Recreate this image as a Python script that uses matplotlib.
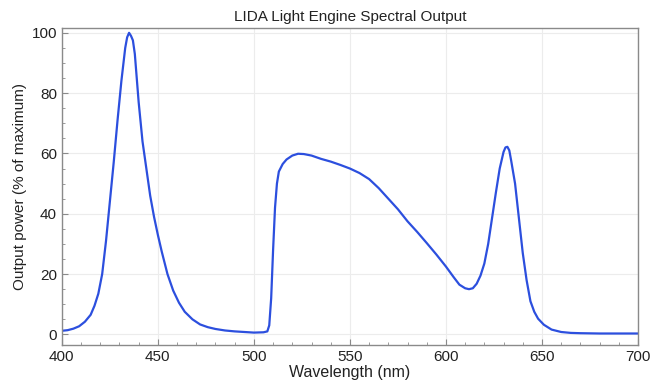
import matplotlib
matplotlib.use('Agg')
import matplotlib.pyplot as plt
from matplotlib.ticker import MultipleLocator

# wavelength (nm) and relative output (% of maximum)
wavelength = [400, 403, 406, 409, 412, 415, 417, 419, 421, 423, 425, 427, 429, 431,
              433, 434, 435, 436, 437, 438, 440, 442, 444, 446, 448, 450, 452, 455,
              458, 461, 464, 468, 472, 476, 480, 485, 490, 495, 500, 505, 507, 508,
              509, 510, 511, 512, 513, 515, 517, 520, 523, 526, 530, 535, 540, 545,
              550, 555, 560, 565, 570, 575, 580, 585, 590, 595, 600, 604, 607, 610,
              612, 614, 616, 618, 620, 622, 624, 626, 628, 630, 631, 632, 633, 634,
              636, 638, 640, 642, 644, 646, 648, 651, 655, 660, 665, 670, 680, 690, 700]
power = [1.2, 1.4, 1.9, 2.7, 4.2, 6.5, 9.5, 13.5, 20, 31, 44, 57, 71, 84,
         95, 98.5, 100, 99, 97.5, 93, 77, 64, 55, 46, 39, 33, 27.5, 20,
         14.5, 10.5, 7.5, 5, 3.3, 2.4, 1.8, 1.3, 1, 0.8, 0.6, 0.7, 1, 3,
         12, 28, 42, 50, 54, 56.5, 58, 59.3, 59.9, 59.8, 59.3, 58.2, 57.3, 56.2,
         55, 53.5, 51.5, 48.5, 45, 41.5, 37.5, 34, 30.3, 26.5, 22.5, 19, 16.5, 15.3,
         15, 15.3, 16.8, 19.5, 23.5, 30, 38.5, 47, 55, 60.5, 62, 62.2, 61, 57.5,
         50, 38.5, 27, 18, 11, 7.5, 5.2, 3.2, 1.6, 0.8, 0.5, 0.4, 0.3, 0.3, 0.3]

title = 'LIDA Light Engine Spectral Output'
xlabel = 'Wavelength (nm)'
ylabel = 'Output power (% of maximum)'

plt.rcParams['font.family'] = ['Liberation Sans', 'DejaVu Sans']

fig = plt.figure(figsize=(6.51, 3.85), dpi=100)
ax = fig.add_axes([0.095, 0.104, 0.885, 0.8225])

ax.plot(wavelength, power, color='#2c4fde', lw=1.6, solid_joinstyle='round')

ax.set_xlim(400, 700)
ax.set_ylim(-3.5, 101.5)
ax.xaxis.set_major_locator(MultipleLocator(50))
ax.xaxis.set_minor_locator(MultipleLocator(10))
ax.yaxis.set_major_locator(MultipleLocator(20))
ax.yaxis.set_minor_locator(MultipleLocator(5))

ax.grid(True, which='major', color='#ececec', lw=0.8)
ax.set_axisbelow(True)
for s in ax.spines.values():
    s.set_color('#8a8a8a')
    s.set_linewidth(1.0)
ax.tick_params(which='both', direction='in', color='#8a8a8a', labelsize=11,
               labelcolor='#222222')
ax.tick_params(which='major', length=4)
ax.tick_params(which='minor', length=2)

ax.set_title(title, fontsize=11, pad=5, color='#222222')
ax.set_xlabel(xlabel, fontsize=11.5, labelpad=1, color='#222222')
ax.set_ylabel(ylabel, fontsize=11, labelpad=3, color='#222222')

fig.savefig('out.png', dpi=100)
